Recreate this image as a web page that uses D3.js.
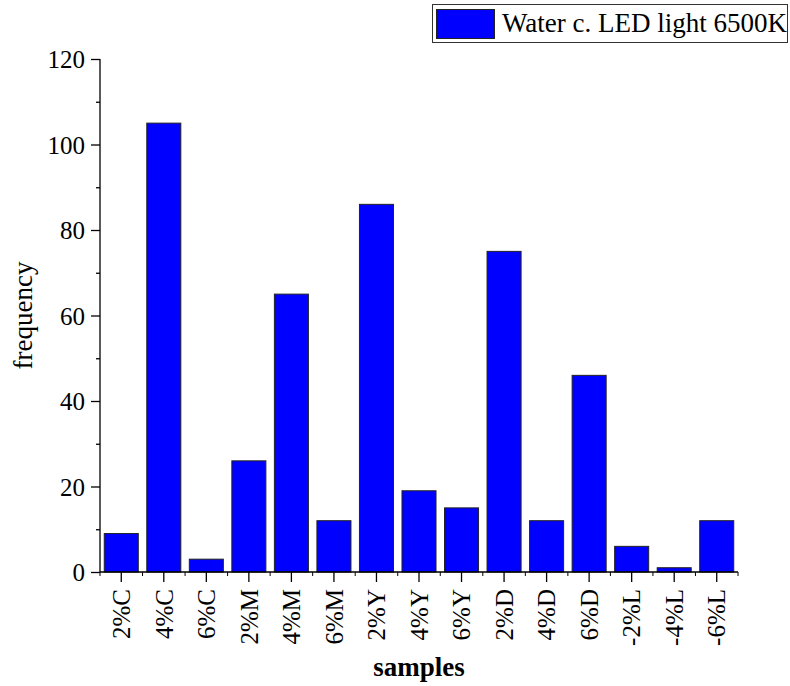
<!DOCTYPE html>
<html>
<head>
<meta charset="utf-8">
<script src="https://d3js.org/d3.v7.min.js"></script>
<style>
  body { margin: 0; background: #fff; }
  svg { display: block; }
  text { font-family: "Liberation Serif", "Times New Roman", serif; fill: #000; }
</style>
</head>
<body>
<svg id="chart" width="790" height="686"></svg>
<script>
const categories = ["2%C","4%C","6%C","2%M","4%M","6%M","2%Y","4%Y","6%Y","2%D","4%D","6%D","-2%L","-4%L","-6%L"];
const frequency = [9,105,3,26,65,12,86,19,15,75,12,46,6,1,12];
const yTicks = [0,20,40,60,80,100,120];
const yMinorTicks = [10,30,50,70,90,110];
const seriesName = "Water c. LED light 6500K";

const svg = d3.select("#chart");
const mLeft = 100, mRight = 738, mTop = 59, mBottom = 572;

const xc = d3.scaleBand().domain(categories).range([mLeft, mRight]);
const y = d3.scaleLinear().domain([0, 120]).range([mBottom, mTop]);

// bars
svg.append("g").selectAll("rect").data(categories).join("rect")
  .attr("x", d => xc(d) + (xc.bandwidth() - xc.bandwidth()*0.8)/2)
  .attr("width", xc.bandwidth()*0.8)
  .attr("y", (d,i) => y(frequency[i]))
  .attr("height", (d,i) => y(0) - y(frequency[i]))
  .attr("fill", "#0000ff")
  .attr("stroke", "#222")
  .attr("stroke-width", 1);

// y axis
const yAxis = svg.append("g").attr("transform", `translate(${mLeft},0)`)
  .call(d3.axisLeft(y).tickValues(yTicks).tickSize(9).tickPadding(6).tickFormat(d3.format("d")));
yAxis.selectAll("text").style("font-size", "25px").attr("dy", "0.34em");
yAxis.select(".domain").attr("d", `M0,${mTop}V${mBottom}`);
const yMinor = svg.append("g").attr("transform", `translate(${mLeft},0)`)
  .call(d3.axisLeft(y).tickValues(yMinorTicks).tickSize(4).tickFormat(""));
yMinor.select(".domain").remove();

// x axis: major ticks at centers
const xAxis = svg.append("g").attr("transform", `translate(0,${mBottom})`)
  .call(d3.axisBottom(xc).tickSize(10).tickPadding(6));
xAxis.select(".domain").attr("d", `M${mLeft},0H${mRight}`);
xAxis.selectAll("text")
  .style("font-size", "25px")
  .attr("transform", "rotate(-90)")
  .attr("text-anchor", "end")
  .attr("x", -17)
  .attr("y", 0)
  .attr("dy", "0.35em");
// minor ticks at boundaries
const bounds = categories.map(c => xc(c)).concat([mRight]);
svg.append("g").selectAll("line").data(bounds).join("line")
  .attr("x1", d => d).attr("x2", d => d)
  .attr("y1", mBottom).attr("y2", mBottom + 4)
  .attr("stroke", "#000");

svg.selectAll(".domain, .tick line").attr("stroke", "#000").attr("stroke-width", 1.3);

// axis titles
svg.append("text")
  .attr("transform", `translate(32,${(mTop+mBottom)/2}) rotate(-90)`)
  .attr("text-anchor", "middle")
  .style("font-size", "27px")
  .text("frequency");
svg.append("text")
  .attr("x", (mLeft + mRight)/2).attr("y", 676)
  .attr("text-anchor", "middle")
  .style("font-size", "27px").style("font-weight", "bold")
  .text("samples");

// legend
const lg = svg.append("g");
lg.append("rect").attr("x", 432.5).attr("y", 4.5).attr("width", 355).attr("height", 38)
  .attr("fill", "#fff").attr("stroke", "#333").attr("stroke-width", 1);
lg.append("rect").attr("x", 436.5).attr("y", 9.5).attr("width", 58).attr("height", 29)
  .attr("fill", "#0000ff").attr("stroke", "#222").attr("stroke-width", 1);
lg.append("text").attr("x", 502).attr("y", 32).style("font-size", "27px").text(seriesName);
</script>
</body>
</html>
